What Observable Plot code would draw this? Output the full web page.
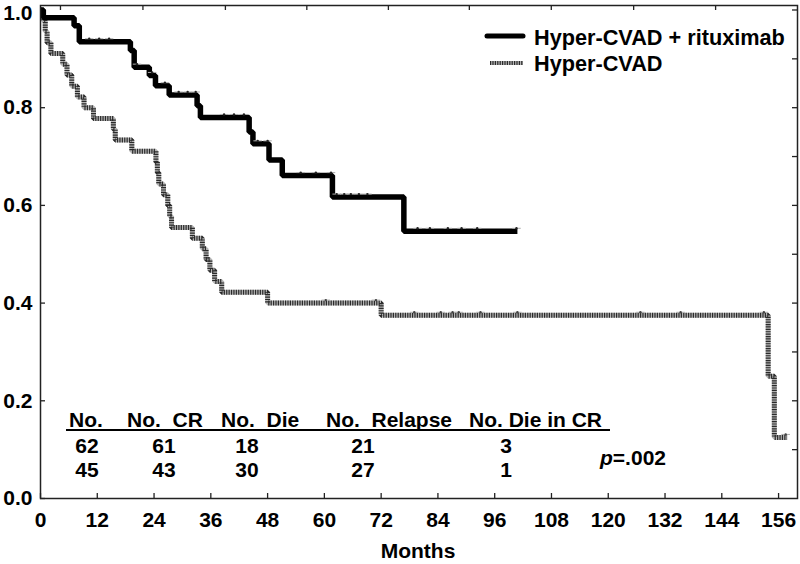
<!DOCTYPE html>
<html><head><meta charset="utf-8">
<script src="https://cdn.jsdelivr.net/npm/d3@7"></script>
<script src="https://cdn.jsdelivr.net/npm/@observablehq/plot@0.6"></script>
<style>
body{margin:0;background:#fff;}
#wrap{position:relative;width:800px;height:564px;}
#wrap svg{font-family:"Liberation Sans",Arial,sans-serif;}
#overlay{position:absolute;left:0;top:0;pointer-events:none;}
#overlay text{white-space:pre;font-weight:bold;font-size:21px;fill:#000;}
#overlay text.leg{font-size:21.7px;}
</style></head><body><div id="wrap"></div>
<script>
// Hyper-CVAD + rituximab: step times (months) and survival after each step
const rituxTimes = [0, 0.6, 7.1, 8.2, 19.0, 19.8, 23.0, 24.3, 27.2, 33.1, 33.8, 44.1, 44.9, 48.3, 51.1, 61.7, 76.8, 100.8];
const rituxSurv  = [1.0, 0.984, 0.968, 0.935, 0.917, 0.883, 0.866, 0.845, 0.826, 0.804, 0.780, 0.750, 0.726, 0.693, 0.661, 0.617, 0.547, 0.547];
// Hyper-CVAD
const cvadTimes = [0, 0.6, 1.0, 1.4, 2.2, 4.7, 5.6, 6.6, 7.8, 9.2, 11.2, 15.4, 15.8, 19.3, 24.4, 24.7, 25.0, 26.0, 26.9, 27.3, 27.7, 32.1, 34.2, 35.0, 35.8, 36.8, 38.3, 48.0, 72.0, 153.8, 155.1, 157.8];
const cvadSurv  = [1.0, 0.978, 0.956, 0.933, 0.911, 0.889, 0.867, 0.844, 0.822, 0.800, 0.778, 0.756, 0.734, 0.711, 0.689, 0.667, 0.644, 0.622, 0.600, 0.578, 0.555, 0.533, 0.511, 0.489, 0.467, 0.444, 0.422, 0.400, 0.375, 0.250, 0.125, 0.125];
// censored observations
const rituxCensT = [10.3, 12.4, 14.5, 20.4, 23.6, 26.3, 29.2, 31.1, 32.8, 38.8, 40.9, 43.0, 45.9, 48.0, 55.0, 58.2, 61.4, 62.6, 64.2, 65.6, 67.3, 69.1, 79.7, 82.3, 86.1, 89.0, 92.3, 100.6];
const rituxCensS = [0.935, 0.935, 0.935, 0.883, 0.866, 0.845, 0.826, 0.826, 0.826, 0.780, 0.780, 0.780, 0.726, 0.726, 0.661, 0.661, 0.661, 0.617, 0.617, 0.617, 0.617, 0.617, 0.547, 0.547, 0.547, 0.547, 0.547, 0.547];
const cvadCensT = [60.3, 70.9, 79.0, 84.6, 87.1, 88.4, 93.0, 100.8, 126.8, 135.3, 152.9, 157.5];
const cvadCensS = [0.400, 0.400, 0.375, 0.375, 0.375, 0.375, 0.375, 0.375, 0.375, 0.375, 0.375, 0.125];

// axes
const xTickValues = [0, 12, 24, 36, 48, 60, 72, 84, 96, 108, 120, 132, 144, 156];
const yTickValues = [0, 0.2, 0.4, 0.6, 0.8, 1.0];
const rightTicks = [0.1, 0.2, 0.3, 0.4, 0.5, 0.6, 0.7, 0.8, 0.9, 1.0];
const topTicks = [4.22, 21.65, 39.08, 56.29, 73.53, 90.64, 107.96, 125.37, 142.69];

// legend & table
const seriesNames = ["Hyper-CVAD + rituximab", "Hyper-CVAD"];
const tableHeaders = ["No.", "No.  CR", "No.  Die", "No.  Relapse", "No. Die in CR"];
const rowRitux = ["62", "61", "18", "21", "3"];
const rowCvad = ["45", "43", "30", "27", "1"];
const pValue = ".002";

const toRows = (ts, ss) => ts.map((t, i) => ({t, s: ss[i]}));
const ritux = toRows(rituxTimes, rituxSurv);
const cvad = toRows(cvadTimes, cvadSurv);
const rC = toRows(rituxCensT, rituxCensS);
const cC = toRows(cvadCensT, cvadCensS);

const W = 800, H = 564, mL = 40, mR = 3, mT = 5, mB = 66;
const pw = W - mL - mR, ph = H - mT - mB;
const GRAY_BASE = "#b4b4b4", GRAY_STRIPE = "#2a2a2a", GRAY_DASH = "1.2,1.2";

const censorMarks = (data, dark) => [
  Plot.link(data, {x1: d => d.t - 0.9, x2: d => d.t + 0.9, y1: "s", y2: "s", dy: -3, stroke: "#aaa", strokeWidth: 1}),
  Plot.dot(data, {x: "t", y: "s", dy: -3, r: 1.2, fill: dark, stroke: "none"})
];
const fmt = d3.format(".1f");

const chart = Plot.plot({
  width: W, height: H,
  marginLeft: mL, marginRight: mR, marginTop: mT, marginBottom: mB,
  style: {fontFamily: "Liberation Sans, Arial, sans-serif", fontSize: "21px", fontWeight: "bold", color: "#000", background: "#fff", overflow: "visible"},
  x: {domain: [0, 160], label: null},
  y: {domain: [0, 1.0092], label: null},
  marks: [
    Plot.axisX(xTickValues, {tickSize: 0, tickPadding: 14, label: null}),
    Plot.axisY(yTickValues.filter(d => d < 1), {tickSize: 0, tickPadding: 8, tickFormat: fmt, label: null}),
    Plot.axisY(yTickValues.filter(d => d >= 1), {tickSize: 0, tickPadding: 8, tickFormat: fmt, label: null, dy: 3}),
    Plot.tickX(xTickValues, {x: d => d, insetTop: ph - 5, stroke: "#222", strokeWidth: 1.3}),
    Plot.tickX(topTicks, {x: d => d, insetBottom: ph - 5, stroke: "#222", strokeWidth: 1.3}),
    Plot.tickY(yTickValues, {y: d => d, insetRight: pw - 5, stroke: "#222", strokeWidth: 1.3}),
    Plot.tickY(rightTicks, {y: d => d, insetLeft: pw - 5, stroke: "#222", strokeWidth: 1.3}),
    Plot.line(cvad, {x: "t", y: "s", curve: "step-after", stroke: GRAY_BASE, strokeWidth: 5, strokeLinecap: "butt", strokeLinejoin: "miter"}),
    Plot.line(cvad, {x: "t", y: "s", curve: "step-after", stroke: GRAY_STRIPE, strokeWidth: 5, strokeDasharray: GRAY_DASH, strokeLinecap: "butt", strokeLinejoin: "miter"}),
    ...censorMarks(cC, "#444"),
    Plot.line(ritux, {x: "t", y: "s", curve: "step-after", stroke: "#000", strokeWidth: 5.5, strokeLinecap: "butt", strokeLinejoin: "miter"}),
    ...censorMarks(rC, "#222"),
    Plot.frame({stroke: "#222", strokeWidth: 1.5})
  ]
});
document.getElementById("wrap").appendChild(chart);

// overlay: legend, table, p value, axis title
const ov = d3.select("#wrap").append("svg").attr("id", "overlay").attr("width", W).attr("height", H);
// legend
ov.append("line").attr("x1", 487).attr("x2", 523).attr("y1", 36).attr("y2", 36)
  .attr("stroke", "#000").attr("stroke-width", 5).attr("stroke-linecap", "round");
ov.append("line").attr("x1", 490).attr("x2", 523).attr("y1", 63).attr("y2", 63)
  .attr("stroke", GRAY_BASE).attr("stroke-width", 4);
ov.append("line").attr("x1", 490).attr("x2", 523).attr("y1", 63).attr("y2", 63)
  .attr("stroke", GRAY_STRIPE).attr("stroke-width", 4).attr("stroke-dasharray", GRAY_DASH);
ov.append("text").attr("class", "leg").attr("x", 534).attr("y", 44.5).text(seriesNames[0]);
ov.append("text").attr("class", "leg").attr("x", 534).attr("y", 70.5).text(seriesNames[1]);
// table
const headerX = [69, 127, 221, 326, 469];
const colCenters = [87, 164, 247, 363, 506];
tableHeaders.forEach((h, i) => ov.append("text").attr("x", headerX[i]).attr("y", 427).text(h));
ov.append("line").attr("x1", 66).attr("x2", 610).attr("y1", 430).attr("y2", 430).attr("stroke", "#000").attr("stroke-width", 2);
rowRitux.forEach((v, i) => ov.append("text").attr("x", colCenters[i]).attr("y", 453).attr("text-anchor", "middle").text(v));
rowCvad.forEach((v, i) => ov.append("text").attr("x", colCenters[i]).attr("y", 477).attr("text-anchor", "middle").text(v));
const pt = ov.append("text").attr("x", 666).attr("y", 465).attr("text-anchor", "end");
pt.append("tspan").attr("font-style", "italic").text("p");
pt.append("tspan").text("=" + pValue);
// axis title
ov.append("text").attr("x", 418).attr("y", 558).attr("text-anchor", "middle").text("Months");
</script></body></html>
